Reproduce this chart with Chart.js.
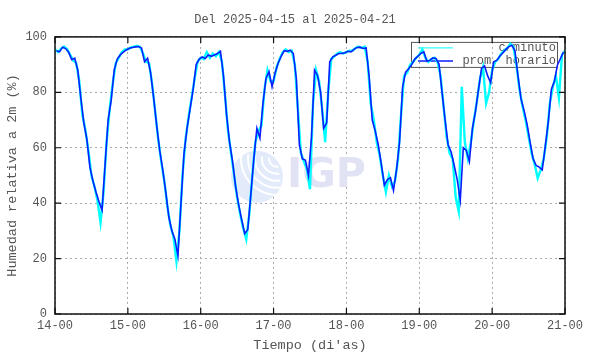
<!DOCTYPE html>
<html>
<head>
<meta charset="utf-8">
<script src="https://cdn.jsdelivr.net/npm/chart.js@4"></script>
<style>
  html, body { margin: 0; padding: 0; background: #fff; }
  #wrap { width: 590px; height: 354px; }
</style>
</head>
<body>
<div id="wrap"><canvas id="myChart" width="590" height="354"></canvas></div>
<script>
// dias del 14 al 21, etiquetas del eje x
const tickLabels = ['14-00', '15-00', '16-00', '17-00', '18-00', '19-00', '20-00', '21-00'];
const yTicks = [0, 20, 40, 60, 80, 100];

// promedio horario (%), una fila por dia, punto a la media hora
const promHorario = [
  95.0, 94.6, 96.3, 95.8, 94.5, 91.8, 92.3, 88, 78, 69, 63, 53, 48, 44, 40.5, 37.5, 54, 70, 77, 88, 92, 93.5, 94.5, 95.3,
  95.9, 96.2, 96.4, 96.5, 96.0, 91.0, 92.3, 87, 78, 68, 59, 52, 44, 35, 30, 27, 21, 40, 58, 67, 74, 81, 90, 92,
  92.8, 92.2, 93.5, 93, 93.5, 94, 94.8, 86, 72, 62, 55, 46, 39.5, 34, 29, 30.5, 43, 56, 67, 63.5, 76, 85, 87.5, 82,
  87, 90.5, 93, 95, 94.8, 95.2, 94, 85, 61, 56, 55.5, 50, 64, 88, 86, 80, 67, 69, 91, 92.8, 93.4, 94, 94, 94.3,
  94.8, 94.6, 95.5, 96.2, 96.3, 95.8, 96, 85.5, 70, 66, 61, 54, 46.5, 48.5, 49.2, 44.6, 52, 62, 82, 87.3, 88.5, 90, 92, 93,
  94, 94.6, 91.2, 91.6, 92.4, 92.2, 90.2, 80, 70, 61, 58.5, 53.6, 48.5, 41, 60, 59, 55, 67, 73, 81, 88.6, 89.5, 86, 83.5,
  91, 91.5, 93, 94.2, 95.5, 96.5, 97, 95, 86, 77.7, 73.5, 68.5, 62, 56, 53.6, 53, 52, 60.5, 69.3, 81, 84, 89.8, 92.2, 94.5
];

// datos c/minuto, leidos a cada hora en punto (con los picos visibles)
const cMinuto = [
  95.5, 94.5, 95.8, 96.5, 95.5, 93.5, 91.5, 90.5, 84, 72, 66.5, 59, 50, 46, 41, 33, 44, 62, 74, 83, 90.5, 92.5, 94.5, 95.5,
  95.5, 96.2, 96.5, 96.8, 96.4, 94, 91, 90.5, 83, 73, 63, 55, 48, 39, 32, 28, 19, 30, 50, 63, 71, 78, 85, 91,
  92.5, 92, 94.5, 92.5, 94, 93, 94.5, 91, 79, 66, 58, 50, 42, 36, 31, 27, 36, 50, 62, 66, 68, 81, 88, 84,
  84, 89, 92, 94.5, 95.5, 94.5, 95, 90, 74, 58, 55, 52, 45, 76, 88, 84, 74, 62, 80, 92, 93, 94, 94.5, 94,
  94.5, 95, 95, 96, 96.5, 96, 96.5, 91, 76, 70, 62, 57, 50, 44, 50, 46, 48, 56, 72, 86, 87, 90, 91, 92.5,
  93.5, 95.5, 92.5, 91, 92, 92.5, 91, 86, 75, 64, 58, 56, 42, 37, 82, 62, 56, 62, 70, 77, 85, 89, 76, 80,
  88, 91, 92, 94, 95, 96, 97.5, 96.5, 90, 81, 75, 70, 64, 58, 54, 49, 52, 56, 64, 76, 82, 86, 78, 93.5,
  95
];

const FONT = '"Liberation Mono", "DejaVu Sans Mono", monospace';
const TXT = '#555';

// marco, marcas hacia dentro y leyenda estilo gnuplot
const gnuplotFrame = {
  id: 'gnuplotFrame',
  beforeDatasetsDraw(chart) {
    const ctx = chart.ctx;
    const a = chart.chartArea;
    // marca de agua IGP
    ctx.save();
    const cx = a.left + (a.right - a.left) * 0.396;
    const cy = a.top + (a.bottom - a.top) * 0.505;
    ctx.fillStyle = '#e3ebfb';
    ctx.beginPath();
    ctx.arc(cx, cy, 26, 0, Math.PI * 2);
    ctx.fill();
    ctx.strokeStyle = '#fff';
    ctx.lineWidth = 2;
    for (let r = 8; r < 40; r += 7) {
      ctx.beginPath();
      ctx.arc(cx + 20, cy - 18, r, Math.PI * 0.45, Math.PI * 1.05);
      ctx.stroke();
    }
    ctx.fillStyle = '#e2e2f5';
    ctx.font = 'bold 41px "DejaVu Sans", sans-serif';
    ctx.textBaseline = 'middle';
    ctx.fillText('IGP', cx + 30, cy);
    ctx.restore();

    // leyenda
    const right = a.right - 8, top = a.top + 5;
    const left = right - 146, bottom = top + 25;
    ctx.save();
    ctx.strokeStyle = '#555';
    ctx.lineWidth = 1;
    ctx.strokeRect(left + 0.5, top + 0.5, right - left, bottom - top);
    ctx.font = '12px ' + FONT;
    ctx.fillStyle = TXT;
    ctx.textAlign = 'right';
    ctx.textBaseline = 'middle';
    const items = chart.data.datasets;
    [items[0], items[1]].forEach((ds, i) => {
      const y = top + 6 + i * 13;
      ctx.strokeStyle = ds.borderColor;
      ctx.lineWidth = ds.legendWidth;
      ctx.beginPath();
      ctx.moveTo(left + 7, y);
      ctx.lineTo(left + 42, y);
      ctx.stroke();
      ctx.fillText(ds.label, right - 1, y);
    });
    ctx.restore();
  },
  afterDraw(chart) {
    const ctx = chart.ctx;
    const a = chart.chartArea;
    const xs = chart.scales.x, ys = chart.scales.y;
    ctx.save();
    ctx.strokeStyle = '#111';
    ctx.lineWidth = 1.5;
    ctx.strokeRect(a.left, a.top, a.right - a.left, a.bottom - a.top);
    ctx.lineWidth = 1.2;
    ctx.beginPath();
    xs.ticks.forEach(t => {
      const px = xs.getPixelForValue(t.value);
      ctx.moveTo(px, a.bottom); ctx.lineTo(px, a.bottom - 6);
      ctx.moveTo(px, a.top); ctx.lineTo(px, a.top + 6);
    });
    ys.ticks.forEach(t => {
      const py = ys.getPixelForValue(t.value);
      ctx.moveTo(a.left, py); ctx.lineTo(a.left + 6, py);
      ctx.moveTo(a.right, py); ctx.lineTo(a.right - 6, py);
    });
    ctx.stroke();
    ctx.restore();
  }
};

const ctx = document.getElementById('myChart');

new Chart(ctx, {
  type: 'line',
  data: {
    datasets: [{
      label: 'c/minuto',
      data: cMinuto.map((v, i) => ({ x: i, y: v })),
      borderColor: '#00ffff',
      borderWidth: 2.4,
      legendWidth: 1,
      pointRadius: 0,
      tension: 0,
      order: 2
    }, {
      label: 'prom. horario',
      data: promHorario.map((v, i) => ({ x: i + 0.5, y: v })),
      borderColor: '#0a1eff',
      borderWidth: 1.6,
      legendWidth: 1.5,
      pointRadius: 0,
      tension: 0,
      order: 1
    }]
  },
  options: {
    responsive: false,
    animation: false,
    layout: { padding: 0 },
    plugins: {
      legend: { display: false },
      tooltip: { enabled: false },
      title: {
        display: true,
        text: 'Del 2025-04-15 al 2025-04-21',
        color: TXT,
        font: { family: FONT, size: 12, weight: 'normal' },
        padding: { top: 12.5, bottom: 10 }
      }
    },
    scales: {
      x: {
        type: 'linear',
        min: 0,
        max: 168,
        afterFit: s => { s.height = 40; },
        afterBuildTicks: s => { s.ticks = tickLabels.map((_, i) => ({ value: i * 24 })); },
        ticks: {
          callback: v => tickLabels[Math.round(v / 24)],
          color: TXT,
          font: { family: FONT, size: 12 },
          padding: 5,
          maxRotation: 0,
          autoSkip: false
        },
        grid: { color: '#aaa', drawTicks: false, lineWidth: 1 },
        border: { display: false, dash: [2, 3] },
        title: {
          display: true,
          text: "Tiempo (di'as)",
          color: TXT,
          font: { family: FONT, size: 13.5 },
          padding: { top: 2, bottom: 0 }
        }
      },
      y: {
        min: 0,
        max: 100,
        afterFit: s => { s.width = 55; },
        afterBuildTicks: s => { s.ticks = yTicks.map(v => ({ value: v })); },
        ticks: {
          color: TXT,
          font: { family: FONT, size: 12 },
          padding: 8
        },
        grid: { color: '#aaa', drawTicks: false, lineWidth: 1 },
        border: { display: false, dash: [2, 3] },
        title: {
          display: true,
          text: 'Humedad relativa a 2m (%)',
          color: TXT,
          font: { family: FONT, size: 13.5 },
          padding: { top: 4, bottom: 2 }
        }
      },
      // margen derecho vacio, deja el titulo centrado en la figura
      yRight: {
        position: 'right',
        min: 0,
        max: 100,
        afterFit: s => { s.width = 25; },
        ticks: { display: false },
        grid: { display: false, drawTicks: false },
        border: { display: false }
      }
    }
  },
  plugins: [gnuplotFrame]
});
</script>
</body>
</html>
